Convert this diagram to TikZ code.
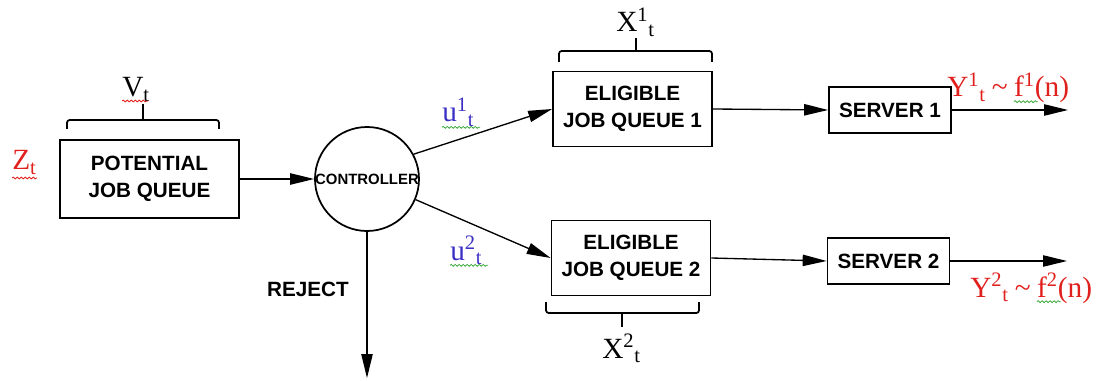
\documentclass[tikz,border=0pt]{standalone}
\usepackage{fontspec}
\setmainfont{Liberation Serif}
\setsansfont{Liberation Sans}
\usetikzlibrary{arrows.meta,decorations.pathmorphing}
\definecolor{zred}{HTML}{E0201C}
\definecolor{ublue}{HTML}{3B2FC4}
\definecolor{sqgreen}{HTML}{3DAA3D}
\newcommand{\supsub}[2]{\textsuperscript{#1}\textsubscript{#2}}
\begin{document}
\begin{tikzpicture}[x=0.75pt,y=-0.75pt,
  box/.style={draw, line width=1.3pt, font=\sffamily\bfseries\fontsize{15.5}{20}\selectfont, align=center, inner sep=0pt},
  arr/.style={line width=1pt, -{Triangle[length=18pt,width=8.5pt]}},
  lbl/.style={font=\fontsize{22}{24}\selectfont, inner sep=0pt, anchor=base west},
  bracepath/.style={line width=1.3pt, rounded corners=2pt},
  squig/.style={decorate, decoration={snake,amplitude=0.7pt,segment length=3pt}, line width=0.6pt}
]
\useasboundingbox (0,0) rectangle (1117,381);

% nodes
\node[box, minimum width=134.25pt, minimum height=58.5pt] (pjq) at (149.5,179) {POTENTIAL\\JOB QUEUE};
\node[draw, circle, line width=1.3pt, minimum size=78pt, inner sep=0pt,
      font=\sffamily\bfseries\fontsize{11.2}{13}\selectfont] (ctrl) at (367,179) {\makebox[0pt]{CONTROLLER}};
\node[box, minimum width=119.25pt, minimum height=56.25pt] (ejq1) at (632.5,109) {ELIGIBLE\\JOB QUEUE 1};
\node[box, minimum width=119.25pt, minimum height=56.25pt] (ejq2) at (631,258) {ELIGIBLE\\JOB QUEUE 2};
\node[box, minimum width=91.5pt, minimum height=34.5pt] (s1) at (890,110) {SERVER 1};
\node[box, minimum width=91.5pt, minimum height=34.5pt] (s2) at (888.5,261) {SERVER 2};
\node[font=\sffamily\bfseries\fontsize{15.5}{17}\selectfont, inner sep=0pt] (rej) at (308,289) {REJECT};

\coordinate (rejend) at (367,378);
\coordinate (out1) at (1068,110);
\coordinate (out2) at (1067,261);

% connectors
\draw[arr] (pjq.east) -- (ctrl.west);
\draw[arr] (ctrl.28) -- (ejq1.west);
\draw[arr] (ctrl.-23) -- (ejq2.west);
\draw[arr] (ctrl.south) -- (rejend);
\draw[arr] (ejq1.east) -- (s1.west);
\draw[arr] (ejq2.east) -- (s2.west);
\draw[arr] (s1.east) -- (out1);
\draw[arr] (s2.east) -- (out2);

% braces
\draw[bracepath] (67,129) -- (67,120) -- (219,120) -- (219,129);
\draw[line width=1.3pt] (143,120) -- (143,104);
\draw[bracepath] (559,62) -- (559,51) -- (712,51) -- (712,62);
\draw[line width=1.3pt] (636,51) -- (636,38);
\draw[bracepath] (546,302) -- (546,313) -- (699,313) -- (699,302);
\draw[line width=1.3pt] (622,313) -- (622,327);

% labels
\node[lbl, text=zred] (zt) at (12,170) {Z\textsubscript{t}};
\node[lbl] (vt) at (122,97) {V\textsubscript{t}};
\node[lbl] (x1) at (616,32) {X\supsub{1}{t}};
\node[lbl] (x2) at (602,358) {X\supsub{2}{t}};
\node[lbl, text=ublue] (u1) at (442,122) {u\supsub{1}{t}};
\node[lbl, text=ublue] (u2) at (450,260) {u\supsub{2}{t}};
\node[lbl, text=zred] (y1) at (947,97) {Y\supsub{1}{t}\hspace{4.5pt}\textasciitilde\hspace{4.5pt}\mbox{}};
\node[lbl, text=zred] (f1) at (y1.base east) {f\textsuperscript{1}(n)};
\node[lbl, text=zred] (y2) at (970,297) {Y\supsub{2}{t}\hspace{4.5pt}\textasciitilde\hspace{4.5pt}\mbox{}};
\node[lbl, text=zred] (f2) at (y2.base east) {f\textsuperscript{2}(n)};

% spelling squiggles
\draw[squig, zred] ([yshift=-6pt]zt.base west) -- ++(25,0);
\draw[squig, zred] ([yshift=-3pt]vt.base west) -- ++(26,0);
\draw[squig, sqgreen] ([yshift=-4pt]u1.base west) -- ++(38,0);
\draw[squig, sqgreen] ([yshift=-4pt]u2.base west) -- ++(38,0);
\draw[squig, sqgreen] ([yshift=-3.5pt]f1.base west) -- ++(24,0);
\draw[squig, sqgreen] ([yshift=-3.5pt]f2.base west) -- ++(24,0);
\end{tikzpicture}
\end{document}
